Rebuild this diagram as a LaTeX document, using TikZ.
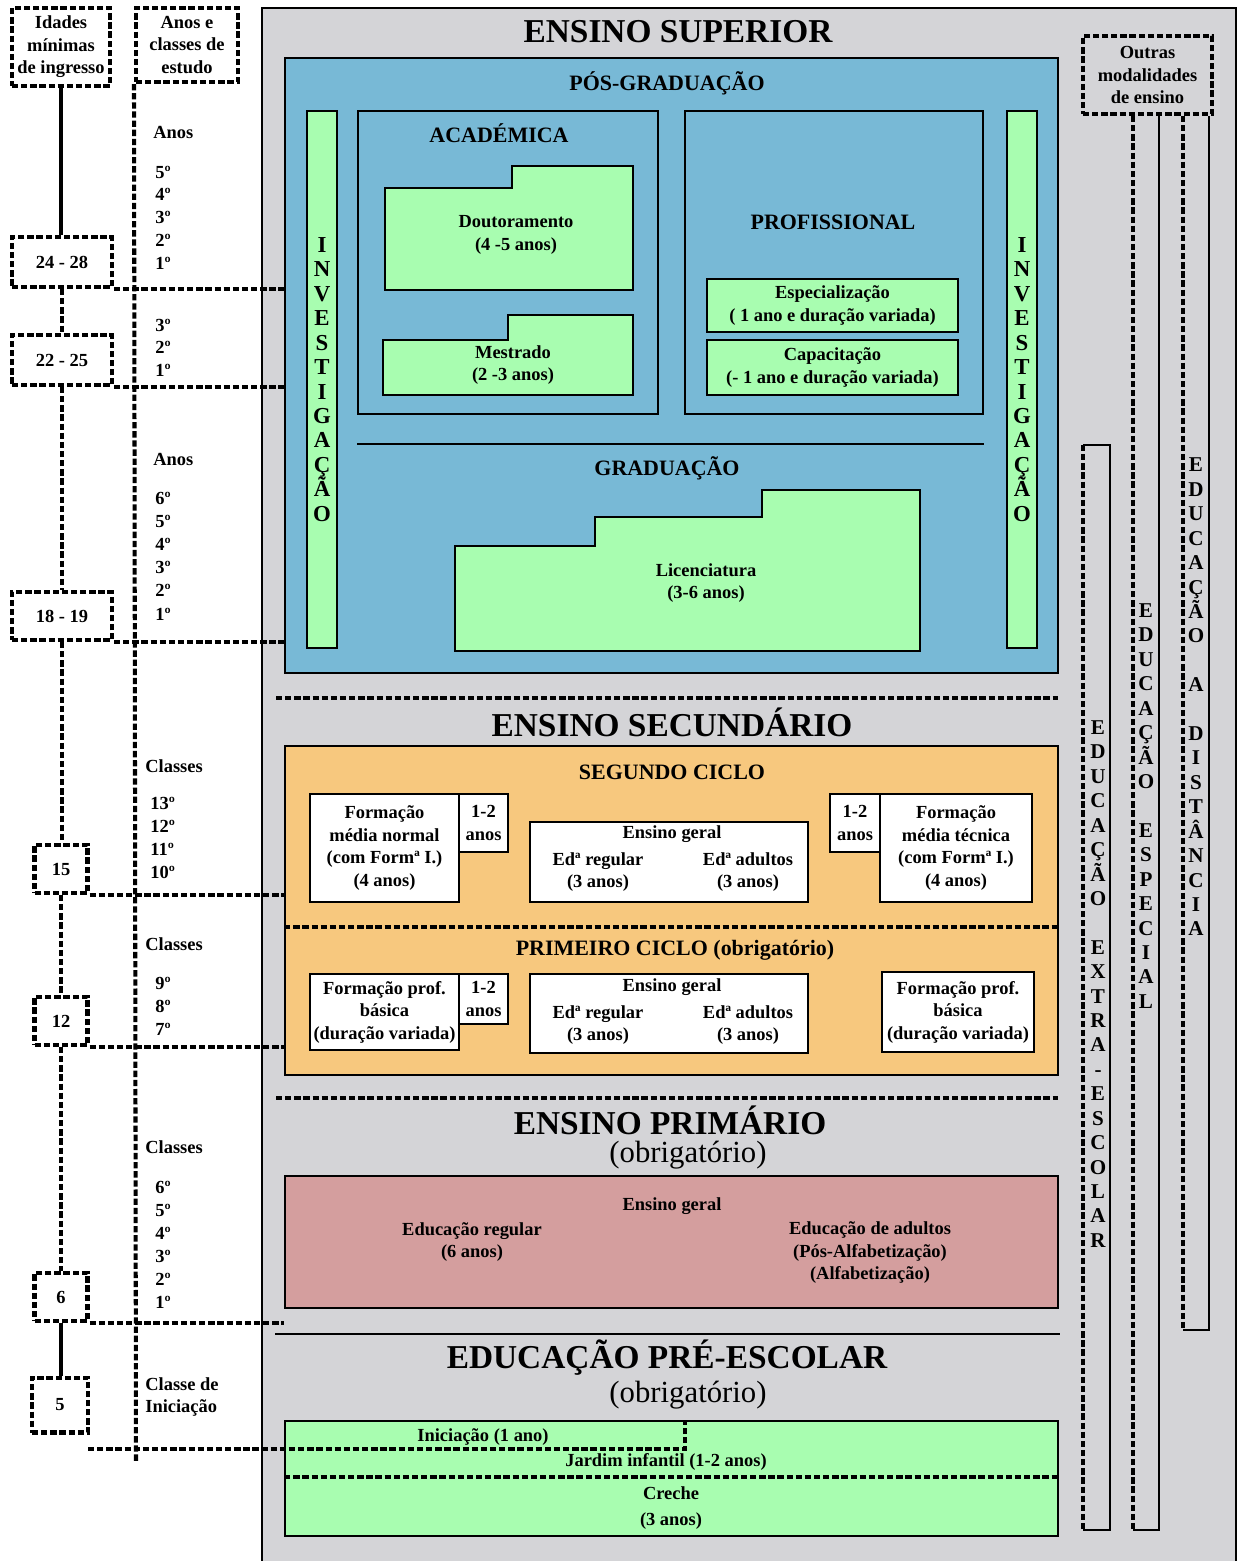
\documentclass[tikz,border=0pt]{standalone}
\usepackage{fontspec}
\setmainfont{Liberation Serif}
\usetikzlibrary{positioning,calc}
\definecolor{panelgray}{RGB}{212,212,215}
\definecolor{supblue}{RGB}{120,185,214}
\definecolor{lightgreen}{RGB}{168,253,176}
\definecolor{secorange}{RGB}{247,200,126}
\definecolor{primpink}{RGB}{212,158,158}

\begin{document}
\begin{tikzpicture}[
  x=0.02cm, y=-0.02cm,
  every node/.style={font=\fontsize{10.5}{12.8}\selectfont\bfseries, align=center, inner sep=0pt},
  boxline/.style={draw, line width=1.1pt},
  wbox/.style={boxline, fill=white},
  gbox/.style={boxline, fill=lightgreen},
  dline/.style={line width=2.3pt, dash pattern=on 3.6pt off 1.6pt},
  dbox/.style={draw, dline},
  title/.style={font=\fontsize{19}{22}\selectfont\bfseries},
  obrig/.style={font=\fontsize{17.5}{20}\selectfont},
  subt/.style={font=\fontsize{12.5}{15}\selectfont\bfseries},
  vtext/.style={font=\fontsize{13}{13.9}\selectfont\bfseries},
  vtextr/.style={font=\fontsize{12}{13.9}\selectfont\bfseries},
  yr/.style={anchor=west}
]
\useasboundingbox (0,0) rectangle (1238,1561);
\draw[boxline, fill=panelgray] (262,8) rectangle (1236,1564);

% idades minimas e anos de estudo
\node[dbox, minimum width=1.96cm, minimum height=1.56cm] (hAge) at (61,47) {Idades\\mínimas\\de ingresso};
\node[dbox, minimum width=2.04cm, minimum height=1.48cm] (hYear) at (187,45) {Anos e\\classes de\\estudo};
\node[dbox, minimum width=2cm, minimum height=1cm] (a2428) at (62,262) {24 - 28};
\node[dbox, minimum width=2cm, minimum height=1cm] (a2225) at (62,360) {22 - 25};
\node[dbox, minimum width=2cm, minimum height=0.96cm] (a1819) at (62,616) {18 - 19};
\node[dbox, minimum width=1.06cm, minimum height=0.96cm] (a15) at (61,869) {15};
\node[dbox, minimum width=1.06cm, minimum height=0.96cm] (a12) at (61,1021) {12};
\node[dbox, minimum width=1.06cm, minimum height=0.96cm] (a6) at (61,1297) {6};
\node[dbox, minimum width=1.12cm, minimum height=1.1cm] (a5) at (60,1405) {5};

\draw[line width=2.3pt] (hAge.south) -- (hAge.south |- a2428.north);
\draw[dline] (a2428.south) -- (a2428.south |- a2225.north);
\draw[dline] (a2225.south) -- (a2225.south |- a1819.north);
\draw[dline] (a1819.south) -- (a1819.south |- a15.north);
\draw[dline] (a15.south) -- (a12.north);
\draw[dline] (a12.south) -- (a6.north);
\draw[line width=2.3pt] (a6.south) -- (a6.south |- a5.north);

\coordinate (yrEnd) at (136,1462);
\draw[dline] (hYear.south west) -- (yrEnd);

\node[yr] (lAnosA) at (153,133) {Anos};
\foreach \n [count=\k] in {5,4,3,2,1}
  \node[yr] (ya\n) at (155,{172+22.8*(\k-1)}) {\n{}º};
\foreach \n [count=\k] in {3,2,1}
  \node[yr] (yb\n) at (155,{325+22.5*(\k-1)}) {\n{}º};
\node[yr] (lAnosB) at (153,459) {Anos};
\foreach \n [count=\k] in {6,5,4,3,2,1}
  \node[yr] (yc\n) at (155,{498+23.2*(\k-1)}) {\n{}º};
\node[yr] (lClsD) at (145,766) {Classes};
\foreach \n [count=\k] in {13,12,11,10}
  \node[yr] (yd\n) at (150,{803+23.3*(\k-1)}) {\n{}º};
\node[yr] (lClsE) at (145,944) {Classes};
\foreach \n [count=\k] in {9,8,7}
  \node[yr] (ye\n) at (155,{983+23*(\k-1)}) {\n{}º};
\node[yr] (lClsF) at (145,1147) {Classes};
\foreach \n [count=\k] in {6,5,4,3,2,1}
  \node[yr] (yf\n) at (155,{1187+23*(\k-1)}) {\n{}º};
\node[yr, align=left] (lIni) at (145,1397) {Classe de\\Iniciação};

% ensino superior
\node[title] (tSup) at (678,32) {ENSINO SUPERIOR};
\node[boxline, fill=supblue, minimum width=15.46cm, minimum height=12.3cm] (sup) at (671.5,365.5) {};
\node[subt] (tPos) at (667,83) {PÓS-GRADUAÇÃO};
\node[gbox, vtext, minimum width=0.6cm, minimum height=10.74cm] (invL) at (322,379.5)
  {I\\N\\V\\E\\S\\T\\I\\G\\A\\Ç\\Ã\\O};
\node[gbox, vtext, minimum width=0.6cm, minimum height=10.74cm] (invR) at (1022,379.5)
  {I\\N\\V\\E\\S\\T\\I\\G\\A\\Ç\\Ã\\O};

\node[boxline, minimum width=6cm, minimum height=6.06cm] (acad) at (508,262.5) {};
\node[subt] (tAcad) at (499,133) {ACADÉMICA};
\draw[gbox] (385,188) -- (512,188) -- (512,166) -- (633,166) -- (633,290) -- (385,290) -- cycle;
\node (dout) at (516,235) {Doutoramento\\(4 -5 anos)};
\draw[gbox] (383,340) -- (508,340) -- (508,315) -- (633,315) -- (633,395) -- (383,395) -- cycle;
\node (mest) at (513,365) {Mestrado\\(2 -3 anos)};

\node[boxline, minimum width=5.96cm, minimum height=6.06cm] (prof) at (834,262.5) {};
\node[subt] (tProf) at (833,222) {PROFISSIONAL};
\node[gbox, minimum width=5.02cm, minimum height=1.06cm] (espec) at (832.5,305.5)
  {Especialização\\( 1 ano e duração variada)};
\node[gbox, minimum width=5.02cm, minimum height=1.1cm] (capac) at (832.5,367.5)
  {Capacitação\\(- 1 ano e duração variada)};

\draw[boxline] (acad.south west |- 0,444) -- (prof.south east |- 0,444);
\node[subt] (tGrad) at (667,468) {GRADUAÇÃO};
\draw[gbox] (455,546) -- (595,546) -- (595,517) -- (762,517) -- (762,490)
  -- (920,490) -- (920,651) -- (455,651) -- cycle;
\node (lic) at (706,583) {Licenciatura\\(3-6 anos)};

% ensino secundario
\draw[dline] (276,698) -- (1058,698);
\node[title] (tSec) at (672,722) {ENSINO SECUNDÁRIO};
\node[boxline, fill=secorange, minimum width=15.46cm, minimum height=6.58cm] (sec) at (671.5,910.5) {};
\node[subt] (tSeg) at (672,772) {SEGUNDO CICLO};
\node[wbox, minimum width=2.98cm, minimum height=2.16cm] (fmn) at (384.5,848)
  {Formação\\média normal\\(com Formª I.)\\(4 anos)};
\node[wbox, minimum width=0.98cm, minimum height=1.16cm] (dur2a) at (483.5,823) {1-2\\anos};
\node[wbox, minimum width=5.56cm, minimum height=1.6cm] (eg2) at (669,862) {};
\node (eg2t) at (672,834) {Ensino geral};
\node (eg2r) at (598,872) {Edª regular\\(3 anos)};
\node (eg2a) at (748,872) {Edª adultos\\(3 anos)};
\node[wbox, minimum width=1cm, minimum height=1.16cm] (dur2b) at (855,823) {1-2\\anos};
\node[wbox, minimum width=3.04cm, minimum height=2.16cm] (fmt) at (956,848)
  {Formação\\média técnica\\(com Formª I.)\\(4 anos)};

\draw[dline] (sec.west |- 0,927) -- (sec.east |- 0,927);
\node[subt] (tPrimC) at (675,950) {PRIMEIRO CICLO (obrigatório)};
\node[wbox, minimum width=2.98cm, minimum height=1.52cm] (fpb) at (384.5,1012)
  {Formação prof.\\básica\\(duração variada)};
\node[wbox, minimum width=0.98cm, minimum height=1cm] (dur1) at (483.5,999) {1-2\\anos};
\node[wbox, minimum width=5.56cm, minimum height=1.58cm] (eg1) at (669,1013.5) {};
\node (eg1t) at (672,987) {Ensino geral};
\node (eg1r) at (598,1025) {Edª regular\\(3 anos)};
\node (eg1a) at (748,1025) {Edª adultos\\(3 anos)};
\node[wbox, minimum width=3.04cm, minimum height=1.6cm] (fpb2) at (958,1012)
  {Formação prof.\\básica\\(duração variada)};

% ensino primario
\draw[dline] (276,1098) -- (1058,1098);
\node[title] (tPri) at (670,1120) {ENSINO PRIMÁRIO};
\node[obrig] (tPriOb) at (688,1155) {(obrigatório)};
\node[boxline, fill=primpink, minimum width=15.46cm, minimum height=2.64cm] (prim) at (671.5,1242) {};
\node (egP) at (672,1206) {Ensino geral};
\node (erP) at (472,1242) {Educação regular\\(6 anos)};
\node (eaP) at (870,1253) {Educação de adultos\\(Pós-Alfabetização)\\(Alfabetização)};

% pre-escolar
\draw[boxline] (275,1334) -- (1060,1334);
\node[title] (tPre) at (667,1358) {EDUCAÇÃO PRÉ-ESCOLAR};
\node[obrig] (tPreOb) at (688,1395) {(obrigatório)};
\node[gbox, minimum width=15.46cm, minimum height=2.3cm] (pre) at (671.5,1478.5) {};
\node (ini) at (483,1437) {Iniciação (1 ano)};
\node (jard) at (666,1462) {Jardim infantil (1-2 anos)};
\draw[dline] (pre.west |- 0,1477) -- (pre.east |- 0,1477);
\node[font=\fontsize{10.5}{15}\selectfont\bfseries] (cre) at (671,1508) {Creche\\(3 anos)};

% ligacoes das idades
\draw[dline] (a2428.south east) -- (a2428.south east -| sup.west);
\draw[dline] (a2225.south east) -- (a2225.south east -| sup.west);
\draw[dline] (a1819.south east) -- (a1819.south east -| sup.west);
\draw[dline] (a15.south east) -- (a15.south east -| sec.west);
\draw[dline] (a12.south east) -- (a12.south east -| sec.west);
\draw[dline] (a6.south east) -- (a6.south east -| prim.west);
\coordinate (iniA) at (88,1449);
\coordinate (iniB) at (685,1449);
\draw[dline] (iniA) -- (iniB) -- (iniB |- pre.north);

% outras modalidades
\node[dbox, minimum width=2.58cm, minimum height=1.56cm] (outras) at (1147.5,75) {Outras\\modalidades\\de ensino};
\coordinate (espA) at (1133,1530);
\coordinate (espB) at (1159,1530);
\coordinate (disA) at (1183,1330);
\coordinate (disB) at (1209,1330);
\draw[dline] (outras.south -| espA) -- (espA);
\draw[boxline] (outras.south -| espB) -- (espB) -- (espA);
\draw[dline] (outras.south -| disA) -- (disA);
\draw[boxline] (outras.south -| disB) -- (disB) -- (disA);
\draw[dline] (1083,445) -- (1083,1530);
\draw[boxline] (1083,445) -- (1110,445) -- (1110,1530) -- (1083,1530);
\node[vtextr] (vExtra) at (1098,984)
  {E\\D\\U\\C\\A\\Ç\\Ã\\O\\\mbox{}\\E\\X\\T\\R\\A\\-\\E\\S\\C\\O\\L\\A\\R};
\node[vtextr] (vEsp) at (1146,806)
  {E\\D\\U\\C\\A\\Ç\\Ã\\O\\\mbox{}\\E\\S\\P\\E\\C\\I\\A\\L};
\node[vtextr] (vDist) at (1196,697)
  {E\\D\\U\\C\\A\\Ç\\Ã\\O\\\mbox{}\\A\\\mbox{}\\D\\I\\S\\T\\Â\\N\\C\\I\\A};
\end{tikzpicture}
\end{document}
